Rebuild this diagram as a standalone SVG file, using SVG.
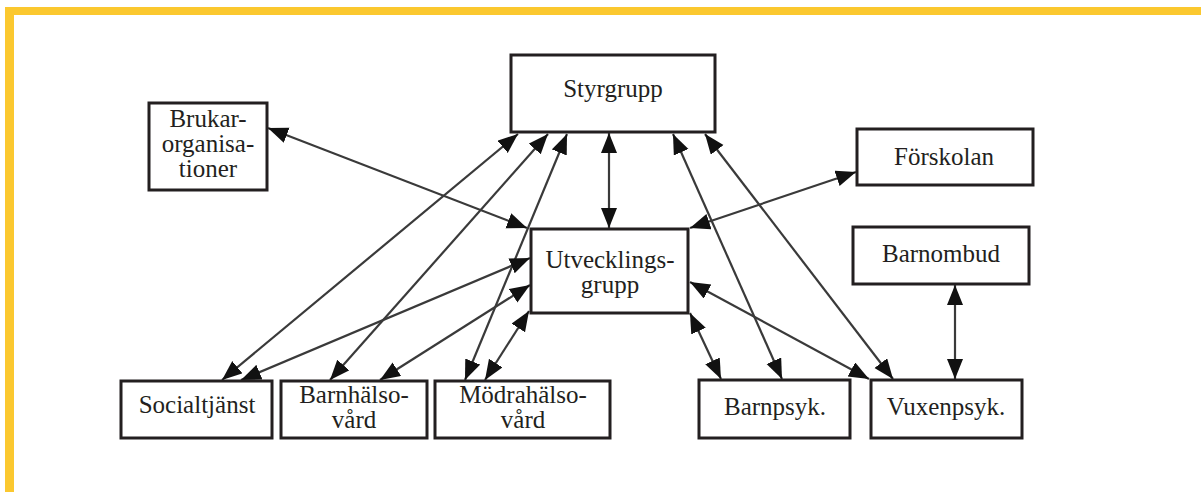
<svg xmlns="http://www.w3.org/2000/svg" width="1201" height="492" viewBox="0 0 1201 492">
<style>
.box{fill:#fff;stroke:#231f20;stroke-width:3}
text{font-family:"Liberation Serif","DejaVu Serif","Times New Roman",serif;font-size:25px;fill:#231f20;text-anchor:middle}
.c{stroke:#3a3a3a;stroke-width:2.2;fill:none;marker-start:url(#ah);marker-end:url(#ah)}
</style>
<defs>
<marker id="ah" markerUnits="userSpaceOnUse" markerWidth="22" markerHeight="18" refX="20" refY="8" orient="auto-start-reverse">
<path d="M0,0 L20,8 L0,16 z" fill="#111"/>
</marker>
</defs>
<rect width="1201" height="492" fill="#fff"/>
<rect x="5" y="7" width="1196" height="8" fill="#fbc82f"/>
<rect x="5" y="7" width="9" height="485" fill="#fbc82f"/>
<g id="connectors">
<line class="c" x1="268" y1="128" x2="527" y2="228"/>
<line class="c" x1="518" y1="134" x2="222" y2="380"/>
<line class="c" x1="548" y1="134" x2="330" y2="380"/>
<line class="c" x1="567" y1="134" x2="465" y2="380"/>
<line class="c" x1="530" y1="258" x2="241" y2="380"/>
<line class="c" x1="530" y1="285" x2="380" y2="380"/>
<line class="c" x1="529" y1="311" x2="485" y2="380"/>
<line class="c" x1="609" y1="133" x2="609" y2="228"/>
<line class="c" x1="673" y1="134" x2="782" y2="379"/>
<line class="c" x1="705" y1="134" x2="893" y2="379"/>
<line class="c" x1="856" y1="172" x2="690" y2="228"/>
<line class="c" x1="690" y1="282" x2="869" y2="379"/>
<line class="c" x1="690" y1="313" x2="721" y2="379"/>
<line class="c" x1="955" y1="285" x2="955" y2="379"/>
</g>
<g id="styrgrupp"><rect class="box" x="511" y="55" width="204" height="77"/><text x="613" y="97">Styrgrupp</text></g>
<g id="brukarorganisationer"><rect class="box" x="149" y="103" width="118" height="87"/><text x="208" y="127">Brukar-</text><text x="208" y="152">organisa-</text><text x="208" y="177">tioner</text></g>
<g id="utvecklingsgrupp"><rect class="box" x="531" y="229" width="157" height="84"/><text x="610" y="268">Utvecklings-</text><text x="610" y="293">grupp</text></g>
<g id="forskolan"><rect class="box" x="857" y="129" width="176" height="56"/><text x="944" y="165">Förskolan</text></g>
<g id="barnombud"><rect class="box" x="853" y="227" width="176" height="57"/><text x="941" y="262">Barnombud</text></g>
<g id="socialtjanst"><rect class="box" x="121" y="381" width="151" height="57"/><text x="197" y="413">Socialtjänst</text></g>
<g id="barnhalsovard"><rect class="box" x="281" y="381" width="146" height="57"/><text x="354" y="403">Barnhälso-</text><text x="354" y="428">vård</text></g>
<g id="modrahalsovard"><rect class="box" x="435" y="381" width="175" height="57"/><text x="523" y="403">Mödrahälso-</text><text x="523" y="428">vård</text></g>
<g id="barnpsyk"><rect class="box" x="699" y="380" width="151" height="58"/><text x="775" y="415">Barnpsyk.</text></g>
<g id="vuxenpsyk"><rect class="box" x="871" y="380" width="151" height="58"/><text x="946" y="415">Vuxenpsyk.</text></g>
</svg>
